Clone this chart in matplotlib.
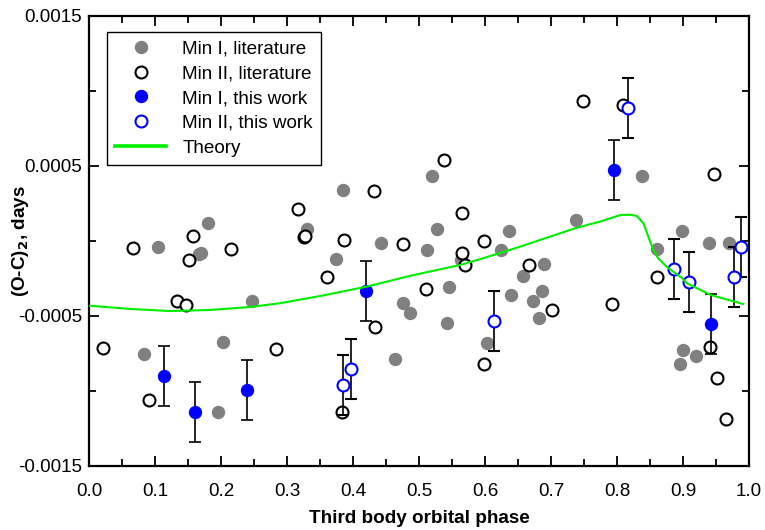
import matplotlib
matplotlib.use("Agg")
import matplotlib.pyplot as plt
from matplotlib.lines import Line2D
import numpy as np

plt.rcParams['font.family'] = ['Liberation Sans', 'DejaVu Sans']

# --- data (O-C in units of 1e-4 days) ---
min1_lit_phase = [0.084, 0.105, 0.167, 0.170, 0.180, 0.203, 0.196, 0.247, 0.330, 0.374,
                  0.385, 0.442, 0.463, 0.476, 0.486, 0.512, 0.520, 0.527, 0.542, 0.546,
                  0.564, 0.603, 0.624, 0.636, 0.639, 0.657, 0.673, 0.682, 0.686, 0.690,
                  0.738, 0.838, 0.861, 0.899, 0.940, 0.969, 0.900, 0.920, 0.896]
min1_lit_oc = [-7.55, -0.42, -0.87, -0.78, 1.22, -6.73, -11.4, -4.0, 0.80, -1.18,
               3.40, -0.11, -7.89, -4.10, -4.79, -0.62, 4.35, 0.82, -5.45, -3.07,
               -1.27, -6.78, -0.58, 0.70, -3.6, -2.33, -3.98, -5.13, -3.33, -1.5,
               1.37, 4.33, -0.55, 0.69, -0.13, -0.13, -7.27, -7.67, -8.18]

min2_lit_phase = [0.021, 0.066, 0.091, 0.134, 0.147, 0.152, 0.158, 0.215, 0.283, 0.317,
                  0.325, 0.328, 0.360, 0.383, 0.387, 0.432, 0.433, 0.476, 0.510, 0.538,
                  0.565, 0.565, 0.569, 0.599, 0.599, 0.667, 0.702, 0.749, 0.792, 0.809,
                  0.860, 0.941, 0.947, 0.952, 0.965]
min2_lit_oc = [-7.15, -0.49, -10.63, -4.0, -4.27, -1.29, 0.33, -0.55, -7.2, 2.12,
               0.27, 0.31, -2.43, -11.38, 0.05, 3.35, -5.7, -0.23, -3.22, 5.38,
               1.85, -0.77, -1.61, 0.0, -8.17, -1.63, -4.61, 9.33, -4.17, 9.07,
               -2.43, -7.09, 4.45, -9.13, -11.89]

min1_this_phase = [0.113, 0.160, 0.240, 0.420, 0.795, 0.942]
min1_this_oc = [-9.0, -11.42, -9.95, -3.3, 4.71, -5.55]
min1_this_err = [2.0, 2.0, 2.0, 2.0, 2.0, 2.0]

min2_this_phase = [0.385, 0.397, 0.613, 0.817, 0.886, 0.909, 0.977, 0.988]
min2_this_oc = [-9.62, -8.53, -5.35, 8.85, -1.87, -2.72, -2.43, -0.37]
min2_this_err = [2.0, 2.0, 2.0, 2.0, 2.0, 2.0, 2.0, 2.0]

theory_phase = [0.0, 0.062, 0.123, 0.183, 0.244, 0.289, 0.350, 0.420, 0.486, 0.562,
                0.592, 0.653, 0.738, 0.774, 0.805, 0.820, 0.830, 0.840, 0.8475, 0.855,
                0.862, 0.875, 0.8985, 0.906, 0.942, 0.991]
theory_oc = [-4.31, -4.53, -4.67, -4.6, -4.4, -4.15, -3.67, -3.05, -2.33, -1.6,
             -1.22, -0.38, 0.87, 1.29, 1.73, 1.75, 1.67, 1.18, 0.29, -0.6,
             -1.13, -1.71, -2.47, -2.82, -3.6, -4.2]

legend_labels = ['Min I, literature', 'Min II, literature', 'Min I, this work',
                 'Min II, this work', 'Theory']

xticks = [0.0, 0.1, 0.2, 0.3, 0.4, 0.5, 0.6, 0.7, 0.8, 0.9, 1.0]
xticklabels = ["0.0", "0.1", "0.2", "0.3", "0.4", "0.5", "0.6", "0.7", "0.8", "0.9", "1.0"]
yticks = [0.0015, 0.0005, -0.0005, -0.0015]
yticklabels = ["0.0015", "0.0005", "-0.0005", "-0.0015"]

scale = 1e-4
fs = 13.6

fig = plt.figure(figsize=(7.65, 5.30), dpi=100)
ax = fig.add_axes([89/765, 1-466/530, 660/765, 450/530])

ms = 8.6
green = '#00ee00'
ax.plot(min1_lit_phase, np.array(min1_lit_oc)*scale, 'o', ms=ms, mfc='#808080',
        mec='#808080', ls='none', zorder=2)
ax.plot(min2_lit_phase, np.array(min2_lit_oc)*scale, 'o', ms=ms, mfc='white',
        mec='black', mew=1.5, ls='none', zorder=3)
ax.errorbar(min1_this_phase, np.array(min1_this_oc)*scale, yerr=np.array(min1_this_err)*scale,
            fmt='o', ms=ms, mfc='blue', mec='blue', ecolor='black', elinewidth=1.2,
            capsize=4.5, capthick=1.2, zorder=4)
ax.errorbar(min2_this_phase, np.array(min2_this_oc)*scale, yerr=np.array(min2_this_err)*scale,
            fmt='o', ms=ms, mfc='white', mec='blue', mew=1.5, ecolor='black', elinewidth=1.2,
            capsize=4.5, capthick=1.2, zorder=4)
ax.plot(theory_phase, np.array(theory_oc)*scale, '-', color=green, lw=1.5, zorder=5)

ax.set_xlim(0, 1.0)
ax.set_ylim(-0.0015, 0.0015)
ax.set_xticks(xticks)
ax.set_xticklabels(xticklabels)
ax.set_xticks(np.arange(0.05, 1.0, 0.1), minor=True)
ax.set_yticks(yticks)
ax.set_yticklabels(yticklabels)
ax.set_yticks([0.001, 0.0, -0.001], minor=True)

ax.tick_params(axis='both', which='both', direction='in', top=True, right=True,
               labelsize=fs, width=1.3)
ax.tick_params(axis='both', which='major', length=7)
ax.tick_params(axis='both', which='minor', length=5)
ax.tick_params(axis='x', which='major', pad=12.5)
ax.tick_params(axis='y', which='major', pad=5)
for sp in ax.spines.values():
    sp.set_linewidth(1.6)

ax.set_xlabel('Third body orbital phase', fontsize=fs, fontweight='bold', labelpad=7)
ax.set_ylabel(r'(O-C)$_\mathbf{2}$, days', fontsize=fs, fontweight='bold')
ax.yaxis.set_label_coords(-0.088, 0.5)

handles = [
    Line2D([], [], ls='none', marker='o', ms=ms, mfc='#808080', mec='#808080'),
    Line2D([], [], ls='none', marker='o', ms=ms, mfc='white', mec='black', mew=1.5),
    Line2D([], [], ls='none', marker='o', ms=ms, mfc='blue', mec='blue'),
    Line2D([], [], ls='none', marker='o', ms=ms, mfc='white', mec='blue', mew=1.5),
    Line2D([], [], ls='-', color=green, lw=2.6),
]
leg = ax.legend(handles, legend_labels, loc='upper left', bbox_to_anchor=(0.027, 0.965),
                borderaxespad=0, fontsize=fs, numpoints=1, frameon=True, fancybox=False,
                edgecolor='black', handlelength=2.7, handletextpad=0.85,
                labelspacing=0.4, borderpad=0.45, framealpha=1)
leg.get_frame().set_linewidth(1.0)

fig.savefig('out.png', dpi=100)
